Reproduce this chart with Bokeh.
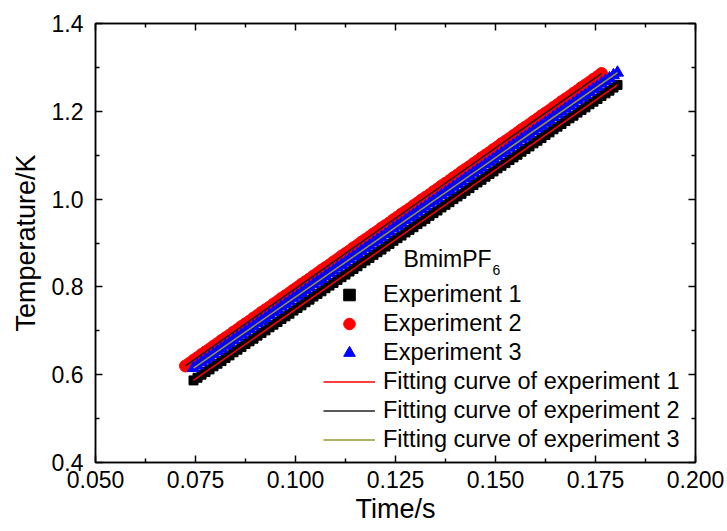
from bokeh.plotting import figure
from bokeh.models import (LinearAxis, FixedTicker, Legend, LegendItem, Label,
                          Range1d, NumeralTickFormatter, CustomJSTickFormatter)
from bokeh.embed import file_html
from bokeh.resources import INLINE

# ---- data ----
t13 = [0.0745, 0.0755, 0.0765, 0.0775, 0.0785, 0.0795, 0.0805, 0.0815, 0.0825, 0.0835,
       0.0845, 0.0855, 0.0865, 0.0875, 0.0885, 0.0895, 0.0905, 0.0915, 0.0925, 0.0935,
       0.0945, 0.0955, 0.0965, 0.0975, 0.0985, 0.0995, 0.1005, 0.1015, 0.1025, 0.1035,
       0.1045, 0.1055, 0.1065, 0.1075, 0.1085, 0.1095, 0.1105, 0.1115, 0.1125, 0.1135,
       0.1145, 0.1155, 0.1165, 0.1175, 0.1185, 0.1195, 0.1205, 0.1215, 0.1225, 0.1235,
       0.1245, 0.1255, 0.1265, 0.1275, 0.1285, 0.1295, 0.1305, 0.1315, 0.1325, 0.1335,
       0.1345, 0.1355, 0.1365, 0.1375, 0.1385, 0.1395, 0.1405, 0.1415, 0.1425, 0.1435,
       0.1445, 0.1455, 0.1465, 0.1475, 0.1485, 0.1495, 0.1505, 0.1515, 0.1525, 0.1535,
       0.1545, 0.1555, 0.1565, 0.1575, 0.1585, 0.1595, 0.1605, 0.1615, 0.1625, 0.1635,
       0.1645, 0.1655, 0.1665, 0.1675, 0.1685, 0.1695, 0.1705, 0.1715, 0.1725, 0.1735,
       0.1745, 0.1755, 0.1765, 0.1775, 0.1785, 0.1795, 0.1805]
exp1 = [0.587, 0.593, 0.600, 0.606, 0.612, 0.619, 0.625, 0.631, 0.638, 0.644,
        0.651, 0.657, 0.663, 0.670, 0.676, 0.682, 0.689, 0.695, 0.701, 0.708,
        0.714, 0.720, 0.727, 0.733, 0.739, 0.746, 0.752, 0.758, 0.765, 0.771,
        0.778, 0.784, 0.790, 0.797, 0.803, 0.809, 0.816, 0.822, 0.828, 0.835,
        0.841, 0.847, 0.854, 0.860, 0.866, 0.873, 0.879, 0.885, 0.892, 0.898,
        0.905, 0.911, 0.917, 0.924, 0.930, 0.936, 0.943, 0.949, 0.955, 0.962,
        0.968, 0.974, 0.981, 0.987, 0.993, 1.000, 1.006, 1.012, 1.019, 1.025,
        1.032, 1.038, 1.044, 1.051, 1.057, 1.063, 1.070, 1.076, 1.082, 1.089,
        1.095, 1.101, 1.108, 1.114, 1.120, 1.127, 1.133, 1.139, 1.146, 1.152,
        1.159, 1.165, 1.171, 1.178, 1.184, 1.190, 1.197, 1.203, 1.209, 1.216,
        1.222, 1.228, 1.235, 1.241, 1.247, 1.254, 1.260]
exp3 = [0.615, 0.621, 0.628, 0.634, 0.640, 0.647, 0.653, 0.659, 0.666, 0.672,
        0.679, 0.685, 0.691, 0.698, 0.704, 0.710, 0.717, 0.723, 0.729, 0.736,
        0.742, 0.748, 0.755, 0.761, 0.767, 0.774, 0.780, 0.786, 0.793, 0.799,
        0.806, 0.812, 0.818, 0.825, 0.831, 0.837, 0.844, 0.850, 0.856, 0.863,
        0.869, 0.875, 0.882, 0.888, 0.894, 0.901, 0.907, 0.913, 0.920, 0.926,
        0.933, 0.939, 0.945, 0.952, 0.958, 0.964, 0.971, 0.977, 0.983, 0.990,
        0.996, 1.002, 1.009, 1.015, 1.021, 1.028, 1.034, 1.040, 1.047, 1.053,
        1.060, 1.066, 1.072, 1.079, 1.085, 1.091, 1.098, 1.104, 1.110, 1.117,
        1.123, 1.129, 1.136, 1.142, 1.148, 1.155, 1.161, 1.167, 1.174, 1.180,
        1.187, 1.193, 1.199, 1.206, 1.212, 1.218, 1.225, 1.231, 1.237, 1.244,
        1.250, 1.256, 1.263, 1.269, 1.275, 1.282, 1.288]
t2 = [0.0725, 0.0735, 0.0745, 0.0755, 0.0765, 0.0775, 0.0785, 0.0795, 0.0805, 0.0815,
      0.0825, 0.0835, 0.0845, 0.0855, 0.0865, 0.0875, 0.0885, 0.0895, 0.0905, 0.0915,
      0.0925, 0.0935, 0.0945, 0.0955, 0.0965, 0.0975, 0.0985, 0.0995, 0.1005, 0.1015,
      0.1025, 0.1035, 0.1045, 0.1055, 0.1065, 0.1075, 0.1085, 0.1095, 0.1105, 0.1115,
      0.1125, 0.1135, 0.1145, 0.1155, 0.1165, 0.1175, 0.1185, 0.1195, 0.1205, 0.1215,
      0.1225, 0.1235, 0.1245, 0.1255, 0.1265, 0.1275, 0.1285, 0.1295, 0.1305, 0.1315,
      0.1325, 0.1335, 0.1345, 0.1355, 0.1365, 0.1375, 0.1385, 0.1395, 0.1405, 0.1415,
      0.1425, 0.1435, 0.1445, 0.1455, 0.1465, 0.1475, 0.1485, 0.1495, 0.1505, 0.1515,
      0.1525, 0.1535, 0.1545, 0.1555, 0.1565, 0.1575, 0.1585, 0.1595, 0.1605, 0.1615,
      0.1625, 0.1635, 0.1645, 0.1655, 0.1665, 0.1675, 0.1685, 0.1695, 0.1705, 0.1715,
      0.1725, 0.1735, 0.1745, 0.1755, 0.1765]
exp2 = [0.620, 0.626, 0.633, 0.639, 0.646, 0.652, 0.658, 0.665, 0.671, 0.678,
        0.684, 0.690, 0.697, 0.703, 0.710, 0.716, 0.722, 0.729, 0.735, 0.742,
        0.748, 0.754, 0.761, 0.767, 0.774, 0.780, 0.786, 0.793, 0.799, 0.806,
        0.812, 0.818, 0.825, 0.831, 0.838, 0.844, 0.850, 0.857, 0.863, 0.870,
        0.876, 0.882, 0.889, 0.895, 0.902, 0.908, 0.914, 0.921, 0.927, 0.934,
        0.940, 0.946, 0.953, 0.959, 0.966, 0.972, 0.978, 0.985, 0.991, 0.998,
        1.004, 1.010, 1.017, 1.023, 1.030, 1.036, 1.042, 1.049, 1.055, 1.062,
        1.068, 1.074, 1.081, 1.087, 1.094, 1.100, 1.106, 1.113, 1.119, 1.126,
        1.132, 1.138, 1.145, 1.151, 1.158, 1.164, 1.170, 1.177, 1.183, 1.190,
        1.196, 1.202, 1.209, 1.215, 1.222, 1.228, 1.234, 1.241, 1.247, 1.254,
        1.260, 1.266, 1.273, 1.279, 1.286]

fit1_x = [0.0745, 0.1805]
fit1_y = [0.587, 1.260]
fit2_x = [0.0725, 0.1765]
fit2_y = [0.620, 1.286]
fit3_x = [0.0745, 0.1805]
fit3_y = [0.615, 1.288]

x_ticks = [0.050, 0.075, 0.100, 0.125, 0.150, 0.175, 0.200]
x_minor = [0.0625, 0.0875, 0.1125, 0.1375, 0.1625, 0.1875]
y_ticks = [0.4, 0.6, 0.8, 1.0, 1.2, 1.4]
y_minor = [0.5, 0.7, 0.9, 1.1, 1.3]

FONT = "Liberation Sans"

n1 = min(len(t13), len(exp1))
n3 = min(len(t13), len(exp3))
n2 = min(len(t2), len(exp2))

p = figure(width=727, height=531, output_backend="svg", toolbar_location=None,
           x_range=Range1d(0.05, 0.2), y_range=Range1d(0.4, 1.4),
           min_border_left=95, min_border_right=32, min_border_top=23,
           min_border_bottom=69, x_axis_label="Time/s", y_axis_label="Temperature/K")
p.xgrid.visible = False
p.ygrid.visible = False
p.outline_line_color = "black"
p.outline_line_width = 1.5
p.background_fill_color = "white"
p.border_fill_color = "white"

xt = FixedTicker(ticks=x_ticks, minor_ticks=x_minor)
yt = FixedTicker(ticks=y_ticks, minor_ticks=y_minor)

def style_axis(ax, labels=True):
    ax.axis_line_width = 1.5
    ax.axis_line_color = "black"
    ax.major_tick_in = 7
    ax.major_tick_out = 0
    ax.minor_tick_in = 4
    ax.minor_tick_out = 0
    ax.major_tick_line_width = 1.5
    ax.minor_tick_line_width = 1.5
    ax.major_label_text_font = FONT
    ax.major_label_text_color = "black"
    ax.major_label_text_font_size = "23px"
    ax.axis_label_text_font = FONT
    ax.axis_label_text_font_style = "normal"
    ax.axis_label_text_color = "black"
    ax.axis_label_text_font_size = "27px"
    if not labels:
        ax.formatter = CustomJSTickFormatter(code="return '';")
        ax.major_label_standoff = 0

xa = p.xaxis[0]
xa.ticker = xt
xa.formatter = NumeralTickFormatter(format="0.000")
style_axis(xa)
xa.major_label_standoff = 8
xa.axis_label_standoff = 3

ya = p.yaxis[0]
ya.ticker = yt
ya.formatter = NumeralTickFormatter(format="0.0")
style_axis(ya)
ya.major_label_standoff = 12
ya.axis_label_standoff = 8

xtop = LinearAxis(ticker=xt)
style_axis(xtop, labels=False)
p.add_layout(xtop, "above")
yright = LinearAxis(ticker=yt)
style_axis(yright, labels=False)
p.add_layout(yright, "right")

r1 = p.scatter(t13[:n1], exp1[:n1], marker="square", size=9, color="black")
r2 = p.scatter(t2[:n2], exp2[:n2], marker="circle", size=12, color="#FF0000")
r3 = p.scatter(t13[:n3], exp3[:n3], marker="triangle", size=12, color="#0000FF")
l1 = p.line(fit1_x, fit1_y, line_color="#FF0000", line_width=1.5)
l2 = p.line(fit2_x, fit2_y, line_color="#222222", line_width=1.5)
l3 = p.line(fit3_x, fit3_y, line_color="#999933", line_width=1.5)

legend = Legend(items=[
    LegendItem(label="Experiment 1", renderers=[r1]),
    LegendItem(label="Experiment 2", renderers=[r2]),
    LegendItem(label="Experiment 3", renderers=[r3]),
    LegendItem(label="Fitting curve of experiment 1", renderers=[l1]),
    LegendItem(label="Fitting curve of experiment 2", renderers=[l2]),
    LegendItem(label="Fitting curve of experiment 3", renderers=[l3]),
], location=(228, 8), orientation="vertical")
legend.glyph_width = 52
legend.glyph_height = 29
legend.label_height = 29
legend.label_standoff = 8
legend.spacing = 0
legend.padding = 0
legend.margin = 0
legend.border_line_color = None
legend.background_fill_alpha = 0
legend.label_text_font = FONT
legend.label_text_font_size = "23.5px"
legend.label_text_color = "black"
p.add_layout(legend)

t_main = Label(x=308, y=204, x_units="screen", y_units="screen", text="BmimPF",
               text_font=FONT, text_font_size="23px", text_baseline="middle",
               text_align="left", text_color="black")
t_sub = Label(x=397, y=193, x_units="screen", y_units="screen", text="6",
              text_font=FONT, text_font_size="14px", text_baseline="middle",
              text_align="left", text_color="black")
p.add_layout(t_main)
p.add_layout(t_sub)

open("out.html", "w").write(file_html(p, INLINE))
